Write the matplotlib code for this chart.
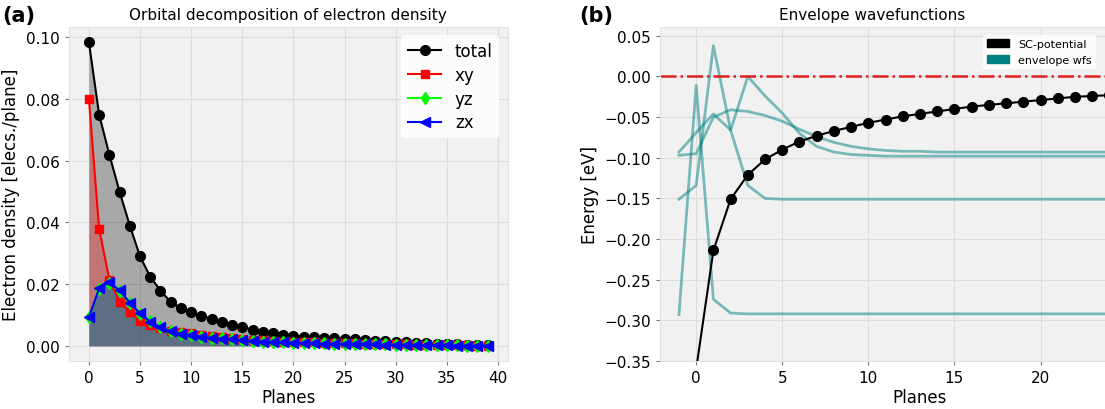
#! /usr/bin/env python3

import matplotlib
matplotlib.use('Agg')
import matplotlib.pyplot as plt
from matplotlib.patches import Patch

# panel (a): orbital decomposition per plane
planes = list(range(40))
total = [0.0985, 0.0750, 0.0620, 0.0500, 0.0390, 0.0290, 0.0224, 0.0179, 0.0142, 0.0123,
         0.0110, 0.0098, 0.0088, 0.0078, 0.0069, 0.0062, 0.0052, 0.0046, 0.0041, 0.0036,
         0.0033, 0.0030, 0.0028, 0.0026, 0.0024, 0.0023, 0.0021, 0.0019, 0.0017, 0.0015,
         0.0013, 0.0011, 0.0010, 0.0008, 0.0007, 0.0006, 0.0005, 0.0004, 0.0003, 0.0002]
xy = [0.0800, 0.0380, 0.0215, 0.0142, 0.0110, 0.0082, 0.0066, 0.0058, 0.0049, 0.0045,
      0.0041, 0.0036, 0.0032, 0.0029, 0.0026, 0.0023, 0.0020, 0.0018, 0.0016, 0.0014,
      0.0013, 0.0012, 0.0011, 0.0010, 0.0009, 0.0009, 0.0008, 0.0007, 0.0007, 0.0006,
      0.0005, 0.0005, 0.0004, 0.0004, 0.0003, 0.0003, 0.0002, 0.0002, 0.0001, 0.0001]
yz = [0.0092, 0.0184, 0.0204, 0.0178, 0.0139, 0.0104, 0.0079, 0.0061, 0.0048, 0.0040,
      0.0034, 0.0030, 0.0027, 0.0024, 0.0021, 0.0019, 0.0016, 0.0014, 0.0012, 0.0011,
      0.0010, 0.0009, 0.0008, 0.0008, 0.0007, 0.0007, 0.0006, 0.0006, 0.0005, 0.0005,
      0.0004, 0.0004, 0.0003, 0.0003, 0.0002, 0.0002, 0.0002, 0.0001, 0.0001, 0.0001]
zx = [0.0092, 0.0186, 0.0206, 0.0180, 0.0140, 0.0105, 0.0078, 0.0060, 0.0047, 0.0039,
      0.0034, 0.0030, 0.0026, 0.0023, 0.0021, 0.0018, 0.0016, 0.0014, 0.0012, 0.0011,
      0.0010, 0.0009, 0.0008, 0.0007, 0.0007, 0.0006, 0.0006, 0.0005, 0.0005, 0.0004,
      0.0004, 0.0003, 0.0003, 0.0002, 0.0002, 0.0002, 0.0001, 0.0001, 0.0001, 0.0001]

# panel (b): self-consistent potential and envelope wavefunctions
sc_planes = list(range(28))
sc_potential = [-0.360, -0.214, -0.151, -0.121, -0.102, -0.090, -0.080, -0.073, -0.067, -0.062,
                -0.057, -0.053, -0.049, -0.046, -0.043, -0.040, -0.037, -0.035, -0.033, -0.031,
                -0.029, -0.027, -0.025, -0.024, -0.023, -0.022, -0.021, -0.020]
wf_planes = list(range(-1, 28))
wf_1 = [-0.293, -0.011, -0.274, -0.291, -0.292, -0.292, -0.292, -0.292, -0.292, -0.292,
        -0.292, -0.292, -0.292, -0.292, -0.292, -0.292, -0.292, -0.292, -0.292, -0.292,
        -0.292, -0.292, -0.292, -0.292, -0.292, -0.292, -0.292, -0.292, -0.292]
wf_2 = [-0.151, -0.134, 0.038, -0.066, -0.134, -0.150, -0.151, -0.151, -0.151, -0.151,
        -0.151, -0.151, -0.151, -0.151, -0.151, -0.151, -0.151, -0.151, -0.151, -0.151,
        -0.151, -0.151, -0.151, -0.151, -0.151, -0.151, -0.151, -0.151, -0.151]
wf_3 = [-0.093, -0.069, -0.046, -0.066, 0.000, -0.024, -0.045, -0.070, -0.086, -0.093,
        -0.096, -0.097, -0.098, -0.098, -0.098, -0.098, -0.098, -0.098, -0.098, -0.098,
        -0.098, -0.098, -0.098, -0.098, -0.098, -0.098, -0.098, -0.098, -0.098]
wf_4 = [-0.097, -0.095, -0.050, -0.041, -0.043, -0.048, -0.055, -0.065, -0.074, -0.081,
        -0.086, -0.089, -0.091, -0.092, -0.092, -0.093, -0.093, -0.093, -0.093, -0.093,
        -0.093, -0.093, -0.093, -0.093, -0.093, -0.093, -0.093, -0.093, -0.093]


def style_axes(ax):
    ax.set_facecolor('#f1f1f1')
    ax.grid(True, color='#dcdcdc', linewidth=0.8)
    ax.set_axisbelow(True)
    for s in ax.spines.values():
        s.set_color('#e2e2e2')
    ax.tick_params(labelsize=11, length=3, color='#777777')


fig = plt.figure(figsize=(11.05, 4.10), dpi=100)

# (a)
ax = fig.add_axes([0.0624, 0.117, 0.397, 0.815])
style_axes(ax)
series = [(total, 'k', 'o', 7, 'total'), (xy, 'r', 's', 6, 'xy'),
          (yz, 'lime', 'd', 6, 'yz'), (zx, 'b', '<', 7, 'zx')]
for vals, c, m, ms, lab in series:
    ax.plot(planes, vals, color=c, marker=m, markersize=ms, linewidth=1.5, label=lab)
    ax.fill_between(planes, vals, color=c, alpha=0.3, linewidth=0)
ax.set_xticks(range(0, 41, 5))
ax.set_yticks([0.0, 0.02, 0.04, 0.06, 0.08, 0.10])
ax.set_yticklabels(['0.00', '0.02', '0.04', '0.06', '0.08', '0.10'])
ax.set_xlabel('Planes', fontsize=12, labelpad=2)
ax.set_ylabel('Electron density [elecs./plane]', fontsize=12)
ax.set_title('Orbital decomposition of electron density', fontsize=11, pad=6)
ax.legend(loc='upper right', fontsize=12, framealpha=0.85, edgecolor='none',
          handlelength=2.0, labelspacing=0.35, borderpad=0.4)

# (b)
ax2 = fig.add_axes([0.5973, 0.117, 0.469, 0.815])
style_axes(ax2)
for wf in [wf_1, wf_2, wf_3, wf_4]:
    ax2.plot(wf_planes, wf, color='teal', alpha=0.5, linewidth=2)
ax2.plot(sc_planes, sc_potential, color='k', marker='o', markersize=7, linewidth=1.5)
ax2.axhline(0.0, color='#e02020', linestyle='-.', linewidth=1.8)
ax2.set_xlim(-2.1, 28.0)
ax2.set_ylim(-0.35, 0.061)
ax2.set_xticks(range(0, 21, 5))
ax2.set_yticks([0.05, 0.0, -0.05, -0.10, -0.15, -0.20, -0.25, -0.30, -0.35])
ax2.set_xlabel('Planes', fontsize=12, labelpad=2)
ax2.set_ylabel('Energy [eV]', fontsize=12)
ax2.set_title('Envelope wavefunctions', fontsize=11, pad=6, x=0.409)
handles = [Patch(color='k', label='SC-potential'), Patch(color='teal', label='envelope wfs')]
ax2.legend(handles=handles, loc='upper right', fontsize=8, framealpha=0.85, edgecolor='none',
           bbox_to_anchor=(1102 / 1105, 1 - 30 / 410), bbox_transform=fig.transFigure)

fig.text(0.002, 0.985, '(a)', fontsize=15, fontweight='bold', va='top')
fig.text(0.524, 0.985, '(b)', fontsize=15, fontweight='bold', va='top')

fig.savefig('out.png', dpi=100)
plt.close('all')
